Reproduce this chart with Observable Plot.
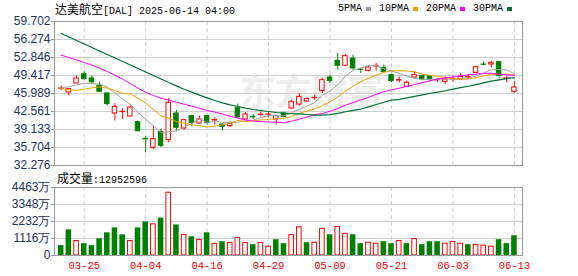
<!DOCTYPE html>
<html>
<head>
<meta charset="utf-8">
<script src="https://cdn.jsdelivr.net/npm/d3@7"></script>
<script src="https://cdn.jsdelivr.net/npm/@observablehq/plot@0.6"></script>
<style>
  html, body { margin: 0; padding: 0; background: #fff; }
  body { width: 578px; height: 276px; position: relative; overflow: hidden; font-family: "Liberation Sans", Arial, sans-serif; }
  #main { position: absolute; left: 0; top: 0; }
  #vol { position: absolute; left: 0; top: 170px; }
  svg { overflow: visible; }
  .cjk { font-family: "Noto Sans CJK SC", sans-serif; font-size: 12px; }
  .mono { font-family: "Liberation Mono", "DejaVu Sans Mono", monospace; font-size: 10px; }
  #title { position: absolute; left: 55px; top: 1px; line-height: 16px; color: #000; white-space: nowrap; }
  #legend { position: absolute; left: 338px; top: 1px; line-height: 16px; display: flex; align-items: center; white-space: nowrap; }
  #legend .sq { display: inline-block; width: 5px; height: 4px; margin-left: 4px; margin-right: 8px; }
  #voltitle { position: absolute; left: 57px; top: 170px; line-height: 15px; white-space: nowrap; }
</style>
</head>
<body>
<div id="title"></div>
<div id="legend"></div>
<div id="vol"></div>
<div id="main"></div>
<div id="voltitle"></div>
<script>
// ---------- data ----------
const stockName = "达美航空";
const titleRest = "[DAL] 2025-06-14 04:00";
const volLabel = "成交量";
const volTotal = "12952596";

const dates = ["03-20","03-21","03-24","03-25","03-26","03-27","03-28","03-31","04-01","04-02",
  "04-03","04-04","04-07","04-08","04-09","04-10","04-11","04-14","04-15","04-16",
  "04-17","04-21","04-22","04-23","04-24","04-25","04-28","04-29","04-30","05-01",
  "05-02","05-05","05-06","05-07","05-08","05-09","05-12","05-13","05-14","05-15",
  "05-16","05-19","05-20","05-21","05-22","05-23","05-27","05-28","05-29","05-30",
  "06-02","06-03","06-04","06-05","06-06","06-09","06-10","06-11","06-12","06-13"];

const open = [46.90,46.18,47.89,49.67,48.84,47.45,46.00,42.18,42.45,41.61,
  40.53,37.35,35.64,38.69,37.10,42.18,39.32,41.67,40.27,41.67,
  40.85,40.08,39.77,43.19,41.04,41.55,41.90,41.95,41.04,42.18,
  43.13,43.89,44.46,45.10,46.43,49.03,52.21,51.26,52.65,50.56,
  50.30,51.15,50.88,49.48,48.45,47.26,49.03,49.29,49.29,48.50,
  48.21,48.70,48.65,49.05,49.92,51.50,51.51,51.95,48.80,46.31];
const high = [47.39,46.94,49.35,50.11,49.29,48.15,46.12,44.08,43.07,43.64,
  40.72,37.74,39.77,39.20,45.03,42.75,41.10,41.86,41.67,41.86,
  41.35,40.21,40.59,43.96,42.37,41.99,42.50,42.31,41.86,42.43,
  44.72,45.99,45.23,45.67,48.84,49.48,53.61,53.41,53.29,50.75,
  51.19,51.70,51.38,49.67,49.16,48.40,50.11,49.48,49.48,48.84,
  49.16,49.35,49.80,49.61,51.19,52.02,52.14,52.14,49.29,48.21];
const low = [46.50,45.54,47.89,48.53,47.70,46.18,43.64,40.78,41.04,41.54,
  38.69,34.69,35.32,35.64,36.59,38.81,39.00,39.64,40.15,39.96,
  39.96,38.88,39.51,41.29,41.04,41.04,41.54,41.35,40.02,41.42,
  43.00,43.58,44.27,44.72,45.99,47.89,50.43,51.07,50.43,49.80,
  50.11,50.30,49.92,48.08,48.02,47.13,48.84,48.53,48.21,48.08,
  47.70,48.08,48.53,48.72,49.80,51.26,50.88,48.78,48.02,45.99];
const close = [46.94,46.81,48.84,48.72,48.15,46.31,43.96,43.45,42.50,43.32,
  38.81,37.25,37.30,36.02,44.21,39.45,40.91,40.40,41.04,40.40,
  40.95,39.64,40.15,41.42,41.99,41.45,41.95,42.00,41.67,41.54,
  44.40,45.35,44.91,45.16,48.53,48.40,51.26,53.10,50.75,50.50,
  50.94,51.26,50.11,48.34,48.55,48.02,49.48,48.72,48.65,48.55,
  48.65,48.75,49.16,49.10,51.00,51.45,51.83,49.35,48.85,47.13];
const priorClose = 47.5; // close of the day before the first candle (estimated)

// volume in 万 (10k shares)
const volume = [647,1682,949,776,647,1100,1488,1811,1358,949,
  1811,2199,2048,2458,4118,2005,1337,1229,1013,1488,
  755,905,819,1143,819,711,819,582,1035,776,
  1337,1854,841,841,1746,1358,1876,1423,1358,776,
  841,776,905,776,949,776,1078,711,905,905,
  776,884,776,711,690,647,582,1035,776,1295];

// moving-average values before a full window is visible
const ma5Lead = [47.00,47.26,47.64,47.96];
const ma10Lead = [46.94,46.69,46.56,46.81,47.07,47.26,47.00,46.56,45.99];
const ma20Lead = [53.29,52.84,52.40,51.89,51.38,50.81,50.18,49.48,48.72,47.89,
  47.00,46.24,45.61,45.10,44.72,44.34,43.96,43.57,43.19];
const ma30Lead = [57.41,56.75,56.08,55.41,54.75,54.08,53.42,52.75,52.08,51.42,
  50.75,50.08,49.42,48.75,48.08,47.45,46.81,46.24,45.67,45.16,
  44.66,44.21,43.83,43.51,43.20,42.94,42.75,42.56,42.37];

const maPeriods = [5, 10, 20, 30];
const priceTicks = [32.276,35.704,39.133,42.561,45.989,49.417,52.846,56.274,59.702];
const volTicks = [0,1116,2232,3348,4463];
const dateTicks = ["03-25","04-04","04-16","04-29","05-09","05-21","06-03","06-13"];

// ---------- styles ----------
const RED = "#ff0000", GREEN = "#008000";
const maColors = {5: "#a0a0a0", 10: "#f0a000", 20: "#ff00ff", 30: "#006f35"};
const GRID = "#d0d0d0", FRAME = "#999999", LABEL = "#22305a";

// ---------- derived ----------
const rows = dates.map((d, i) => ({
  i, date: d, o: open[i], h: high[i], l: low[i], c: close[i], v: volume[i],
  up: close[i] >= open[i],
  vup: close[i] >= (i === 0 ? priorClose : close[i - 1])
}));
const leads = {5: ma5Lead, 10: ma10Lead, 20: ma20Lead, 30: ma30Lead};
function movingAverage(n) {
  return close.map((_, i) => ({i, v: i < n - 1 ? leads[n][i] : d3.mean(close.slice(i - n + 1, i + 1))}));
}
const maSeries = Object.fromEntries(maPeriods.map(n => [n, movingAverage(n)]));
const tickIdx = dateTicks.map(t => dates.indexOf(t));
const xDomain = [-0.87, 60.05];
const upRows = rows.filter(d => d.up), downRows = rows.filter(d => !d.up);

// ---------- header ----------
document.getElementById("title").innerHTML =
  `<span class="cjk">${stockName}</span><span class="mono">${titleRest}</span>`;
document.getElementById("legend").innerHTML = maPeriods.map(n =>
  `<span class="mono">${n}PMA</span><span class="sq" style="background:${maColors[n]}"></span>`).join("");
document.getElementById("voltitle").innerHTML =
  `<span class="cjk">${volLabel}</span><span class="mono">:${volTotal}</span>`;

// ---------- main chart ----------
const main = Plot.plot({
  width: 578, height: 170,
  marginLeft: 54, marginRight: 56, marginTop: 21, marginBottom: 5,
  style: {fontFamily: "Liberation Sans, Arial, sans-serif", fontSize: "12px", background: "transparent", overflow: "visible"},
  x: {domain: xDomain, axis: null},
  y: {domain: [priceTicks[0], priceTicks[priceTicks.length - 1]], axis: null},
  marks: [
    Plot.text(["东方财富"], {frameAnchor: "middle", dx: 23, dy: 0, fontSize: 36, fontWeight: "bold",
      fill: "#ededed", fontFamily: "Noto Sans CJK SC"}),
    Plot.gridY(priceTicks, {stroke: GRID, strokeOpacity: 1}),
    Plot.gridX(tickIdx, {stroke: GRID, strokeOpacity: 1, strokeDasharray: "4,3"}),
    Plot.axisY(priceTicks, {tickFormat: d => d.toFixed(3), tickSize: 3, tickPadding: 1, label: null,
      stroke: FRAME, fill: LABEL, fontSize: 12}),
    Plot.ruleX(upRows, {x: "i", y1: "l", y2: "h", stroke: RED, strokeWidth: 1}),
    Plot.ruleX(downRows, {x: "i", y1: "l", y2: "h", stroke: GREEN, strokeWidth: 1}),
    Plot.rect(upRows, {x1: d => d.i - 0.29, x2: d => d.i + 0.29, y1: "o", y2: "c",
      fill: "#fff", stroke: RED, strokeWidth: 1}),
    Plot.rect(downRows, {x1: d => d.i - 0.29, x2: d => d.i + 0.29, y1: "o", y2: "c",
      fill: GREEN, stroke: GREEN, strokeWidth: 1}),
    ...maPeriods.map(n => Plot.line(maSeries[n], {x: "i", y: "v", stroke: maColors[n],
      strokeWidth: n === 30 ? 1.2 : 1})),
    Plot.frame({stroke: FRAME, strokeWidth: 1})
  ]
});
document.getElementById("main").appendChild(main);

// ---------- volume chart ----------
const vol = Plot.plot({
  width: 578, height: 106,
  marginLeft: 54, marginRight: 56, marginTop: 17, marginBottom: 21,
  style: {fontFamily: "Liberation Sans, Arial, sans-serif", fontSize: "12px", background: "transparent", overflow: "visible"},
  x: {domain: xDomain, axis: null},
  y: {domain: [0, volTicks[volTicks.length - 1]], axis: null},
  marks: [
    Plot.gridY(volTicks, {stroke: GRID, strokeOpacity: 1}),
    Plot.gridX(tickIdx, {stroke: GRID, strokeOpacity: 1, strokeDasharray: "4,3"}),
    Plot.axisY(volTicks, {tickFormat: d => d === 0 ? "0" : d + "万", tickSize: 3, tickPadding: 1, label: null,
      stroke: FRAME, fill: LABEL, fontSize: 12}),
    Plot.axisX(tickIdx, {tickFormat: i => dates[i], tickSize: 0, tickPadding: 6, fill: RED, label: null,
      fontSize: 10.5, fontFamily: "Liberation Mono, DejaVu Sans Mono, monospace"}),
    Plot.rectY(rows.filter(d => d.vup), {x1: d => d.i - 0.3, x2: d => d.i + 0.3, y: "v",
      fill: "#fff", stroke: RED, strokeWidth: 1}),
    Plot.rectY(rows.filter(d => !d.vup), {x1: d => d.i - 0.36, x2: d => d.i + 0.36, y: "v",
      fill: GREEN}),
    Plot.frame({stroke: FRAME, strokeWidth: 1})
  ]
});
document.getElementById("vol").appendChild(vol);
</script>
</body>
</html>
